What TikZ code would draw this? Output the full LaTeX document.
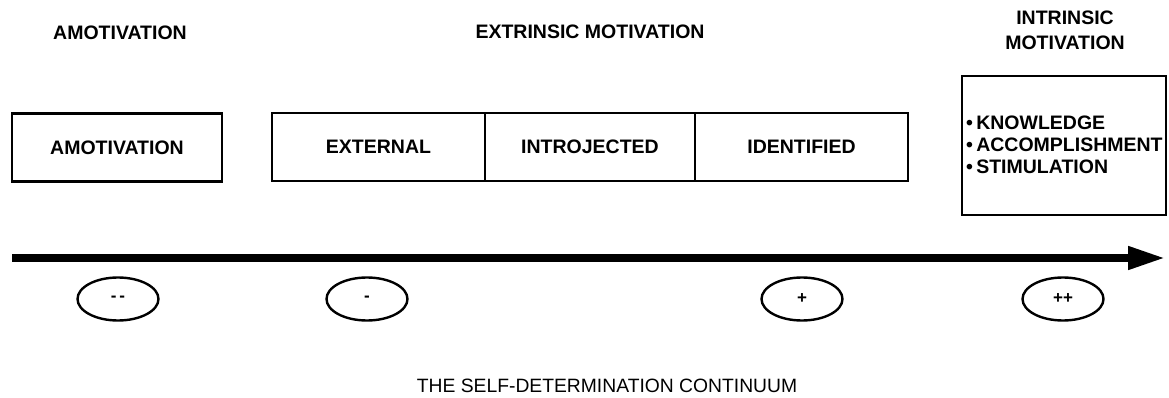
\documentclass[tikz,border=0pt]{standalone}
\usepackage{fontspec}
\setmainfont{Liberation Sans}
\usetikzlibrary{arrows.meta,shapes.geometric}
\tikzset{
  heading/.style={font=\fontsize{19.5}{24}\selectfont\bfseries, align=center},
  stagebox/.style={draw, line width=2.8pt, minimum height=68pt, inner sep=0pt, outer sep=0pt,
     font=\fontsize{19.5}{24}\selectfont\bfseries},
  degree/.style={draw, ellipse, line width=2.4pt, minimum width=81pt, minimum height=43pt,
     inner sep=0pt, font=\fontsize{17}{18}\selectfont\bfseries},
  axis/.style={line width=7.5pt, -{Triangle[length=37pt,width=22pt]}}
}
\begin{document}
\begin{tikzpicture}[x=1pt,y=-1pt]
\useasboundingbox (0,0) rectangle (1169,398);
% headings
\node[heading] (hA) at (120,33) {AMOTIVATION};
\node[heading] (hE) at (590,32) {EXTRINSIC MOTIVATION};
\node[heading] (hI) at (1065,30) {INTRINSIC\\[1pt]MOTIVATION};
% boxes
\node[stagebox, minimum width=210pt] (amot) at (117,147.5) {AMOTIVATION};
\node[stagebox, minimum width=213pt] (ext) at (378.5,147) {EXTERNAL};
\node[stagebox, minimum width=210pt] (intro) at (590,147) {INTROJECTED};
\node[stagebox, minimum width=213pt] (ident) at (801.5,147) {IDENTIFIED};
\node[stagebox, minimum width=204pt, minimum height=139pt] (intr) at (1064,145.5) {};
\node[anchor=west, align=left, inner sep=0pt, font=\fontsize{19.5}{22}\selectfont\bfseries] (list) at (966,145)
  {\textbullet\,KNOWLEDGE\\\textbullet\,ACCOMPLISHMENT\\\textbullet\,STIMULATION};
% axis
\coordinate (s) at (12,258);
\coordinate (e) at (1165,258);
\draw[axis] (s) -- (e);
% degrees
\node[degree] (d1) at (118,299) {-\,-};
\node[degree] (d2) at (367,299) {-};
\node[degree] (d3) at (802,299) {+};
\node[degree] (d4) at (1063,299) {++};
% caption
\node[font=\fontsize{19.3}{22}\selectfont] (cap) at (607,386) {THE SELF-DETERMINATION CONTINUUM};
\end{tikzpicture}
\end{document}
